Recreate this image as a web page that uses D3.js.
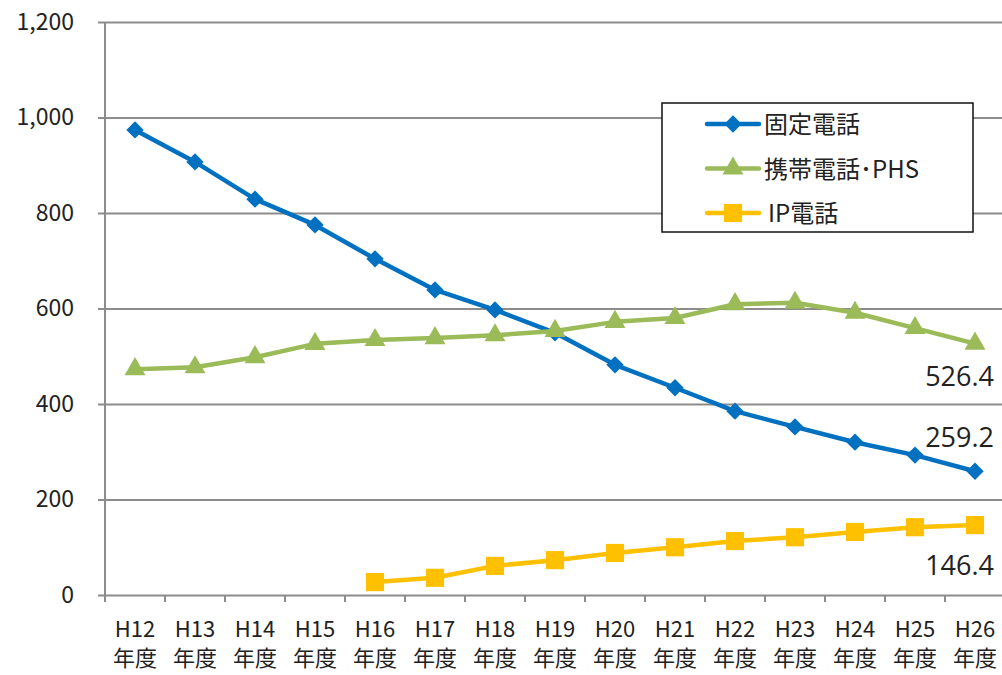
<!DOCTYPE html>
<html>
<head>
<meta charset="utf-8">
<script src="https://cdn.jsdelivr.net/npm/d3@7"></script>
<style>
  body { margin: 0; background: #fff; }
  svg text { font-family: "Noto Sans CJK JP", "Noto Sans", sans-serif; fill: #222; }
</style>
</head>
<body>
<div id="chart"></div>
<script>
// categories (fiscal years)
const years = ['H12','H13','H14','H15','H16','H17','H18','H19','H20','H21','H22','H23','H24','H25','H26'];
const yTicks = [0, 200, 400, 600, 800, 1000, 1200];

// series values
const fixedLine = [974, 907, 829, 775, 704, 639, 597, 549, 482, 434, 385, 352, 320, 293, 259.2];
const mobile    = [473, 477, 498, 526, 534, 538, 544, 553, 572, 580, 609, 612, 591, 559, 526.4];
const ipPhone   = [null, null, null, null, 27, 36, 61, 73, 88, 100, 113, 121, 132, 142, 146.4];

const series = [
  { name: '固定電話', values: fixedLine, color: '#0070C0', marker: 'diamond', label: '259.2' },
  { name: '携帯電話･PHS', values: mobile, color: '#9BBB59', marker: 'triangle', label: '526.4' },
  { name: 'IP電話', values: ipPhone, color: '#FFC000', marker: 'square', label: '146.4' }
];

const width = 1002, height = 675;
const margins = { top: 22, right: -3, bottom: 80, left: 105 };

const svg = d3.select('#chart').append('svg')
  .attr('width', width)
  .attr('height', height);

const x = d3.scaleBand()
  .domain(years)
  .range([margins.left, width - margins.right]);

const y = d3.scaleLinear()
  .domain([0, 1200])
  .range([height - margins.bottom, margins.top]);

// gridlines + y labels
const yAxis = d3.axisLeft(y)
  .tickValues(yTicks)
  .tickFormat(d3.format(','))
  .tickSize(-(width - margins.left + 7))
  .tickPadding(24);

const gy = svg.append('g')
  .attr('transform', `translate(${margins.left - 7},0)`)
  .call(yAxis);
gy.select('.domain').remove();
gy.selectAll('.tick line').attr('stroke', '#8c8c8c').attr('stroke-width', 2);
gy.selectAll('.tick text').style('font-size', '23px').attr('fill', '#222');

// y axis line
svg.append('line')
  .attr('x1', margins.left).attr('x2', margins.left)
  .attr('y1', y(1200)).attr('y2', y(0))
  .attr('stroke', '#8c8c8c').attr('stroke-width', 2);

// x axis ticks at band boundaries
const bounds = years.map(d => x(d)).concat([x.range()[1]]);
svg.append('g').selectAll('line')
  .data(bounds)
  .join('line')
  .attr('x1', d => d).attr('x2', d => d)
  .attr('y1', y(0)).attr('y2', y(0) + 7)
  .attr('stroke', '#8c8c8c').attr('stroke-width', 2);

// x labels (two lines)
const xl = svg.append('g').selectAll('text')
  .data(years)
  .join('text')
  .attr('x', d => x(d) + x.bandwidth() / 2)
  .attr('text-anchor', 'middle')
  .style('font-size', '22px');
xl.append('tspan').attr('x', d => x(d) + x.bandwidth() / 2).attr('y', 637).text(d => d);
xl.append('tspan').attr('x', d => x(d) + x.bandwidth() / 2).attr('y', 666).text('年度');

const cx = (d, i) => x(years[i]) + x.bandwidth() / 2;

const line = d3.line()
  .defined(d => d != null)
  .x((d, i) => cx(d, i))
  .y(d => y(d));

const symbols = {
  diamond: d3.symbol().type(d3.symbolSquare).size(150),
  triangle: d3.symbol().type(d3.symbolTriangle).size(190),
  square: d3.symbol().type(d3.symbolSquare).size(330)
};

series.forEach(s => {
  svg.append('path')
    .datum(s.values)
    .attr('d', line)
    .attr('fill', 'none')
    .attr('stroke', s.color)
    .attr('stroke-width', 4.5)
    .attr('stroke-linejoin', 'round');

  const pts = s.values.map((v, i) => ({ v, i })).filter(p => p.v != null);
  svg.append('g').selectAll('path')
    .data(pts)
    .join('path')
    .attr('d', symbols[s.marker])
    .attr('fill', s.color)
    .attr('transform', p => {
      const rot = s.marker === 'diamond' ? ' rotate(45)' : '';
      return `translate(${cx(null, p.i)},${y(p.v)})${rot}`;
    });
});

// end-point value labels
const last = years.length - 1;
const labelOffsets = { '固定電話': -24, '携帯電話･PHS': 42, 'IP電話': 50 };
svg.append('g').selectAll('text')
  .data(series)
  .join('text')
  .attr('x', 994)
  .attr('y', s => y(s.values[last]) + labelOffsets[s.name])
  .attr('text-anchor', 'end')
  .style('font-family', '"Open Sans", "Liberation Sans", sans-serif')
  .style('font-size', '27px')
  .attr('fill', '#111')
  .text(s => s.label);

// legend
const legend = svg.append('g').attr('transform', 'translate(662,103)');
legend.append('rect')
  .attr('width', 311).attr('height', 129)
  .attr('fill', '#fff').attr('stroke', '#111').attr('stroke-width', 1.5);

const items = legend.selectAll('g.item')
  .data(series)
  .join('g')
  .attr('class', 'item')
  .attr('transform', (d, i) => `translate(0,${21 + i * 44.5})`);

items.append('line')
  .attr('x1', 45).attr('x2', 97)
  .attr('stroke', d => d.color).attr('stroke-width', 4.5)
  .attr('stroke-linecap', 'round');
items.append('path')
  .attr('d', d => symbols[d.marker]())
  .attr('fill', d => d.color)
  .attr('transform', d => `translate(71,0)${d.marker === 'diamond' ? ' rotate(45)' : ''}`);
items.append('text')
  .attr('x', d => d.marker === 'square' ? 106 : 102)
  .attr('y', 9)
  .style('font-size', '24px')
  .text(d => d.name);
</script>
</body>
</html>
